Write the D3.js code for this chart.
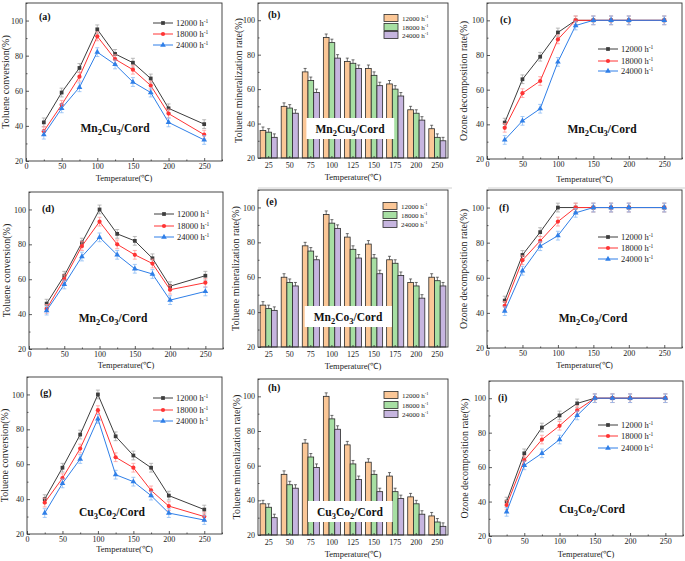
<!DOCTYPE html>
<html><head><meta charset="utf-8">
<script src="https://cdn.jsdelivr.net/npm/d3@7"></script>
<style>
body{margin:0;background:#fff}
svg{display:block}
text{font-family:"Liberation Serif","Times New Roman",serif;fill:#222}
</style>
</head><body>
<svg id="chart" width="685" height="561"></svg>
<script>
// ---------- data ----------
const temps = [25, 50, 75, 100, 125, 150, 175, 200, 250];
const tempLabels = ["25", "50", "75", "100", "125", "150", "175", "200", "250"];
const seriesNames = ["12000", "18000", "24000"];
const xTicksLine = [0, 50, 100, 150, 200, 250];
const yTicks = [20, 40, 60, 80, 100];

// (a) Mn2Cu3/Cord toluene conversion
const aConv12000 = [42, 59, 73, 95, 81, 76, 67, 50, 41];
const aConv18000 = [37, 52, 68, 91, 78, 72, 63, 47, 35];
const aConv24000 = [35, 50, 62, 82, 75, 65, 59, 42, 32];
// (b) Mn2Cu3/Cord mineralization
const bMin12000 = [36, 50, 70, 90, 76, 72, 63, 48, 37];
const bMin18000 = [35, 49, 65, 87, 75, 68, 60, 46, 32];
const bMin24000 = [32, 46, 58, 78, 72, 62, 56, 42, 30];
// (c) Mn2Cu3/Cord ozone decomposition
const cOz12000 = [41, 66, 79, 93, 100, 100, 100, 100, 100];
const cOz18000 = [38, 58, 65, 89, 100, 100, 100, 100, 100];
const cOz24000 = [31, 42, 49, 76, 97, 100, 100, 100, 100];
// (d) Mn2Co3/Cord toluene conversion
const dConv12000 = [46, 62, 81, 100, 86, 82, 72, 56, 62];
const dConv18000 = [43, 60, 79, 93, 80, 74, 69, 54, 58];
const dConv24000 = [42, 57, 73, 84, 74, 66, 63, 48, 53];
// (e) Mn2Co3/Cord mineralization
const eMin12000 = [44, 60, 78, 96, 83, 79, 70, 57, 60];
const eMin18000 = [42, 57, 75, 91, 76, 71, 68, 55, 58];
const eMin24000 = [41, 55, 70, 88, 71, 62, 61, 48, 55];
// (f) Mn2Co3/Cord ozone decomposition
const fOz12000 = [47, 73, 86, 100, 100, 100, 100, 100, 100];
const fOz18000 = [44, 70, 81, 92, 100, 100, 100, 100, 100];
const fOz24000 = [41, 64, 78, 84, 97, 100, 100, 100, 100];
// (g) Cu3Co2/Cord toluene conversion
const gConv12000 = [40, 58, 77, 100, 76, 65, 58, 42, 34];
const gConv18000 = [38, 52, 69, 91, 64, 58, 45, 36, 30];
const gConv24000 = [32, 49, 63, 86, 54, 50, 42, 32, 28];
// (h) Cu3Co2/Cord mineralization
const hMin12000 = [38, 55, 73, 100, 72, 62, 54, 42, 31];
const hMin18000 = [36, 49, 65, 87, 61, 55, 45, 38, 27.5];
const hMin24000 = [30, 47, 59, 81, 52, 45, 41, 32, 25];
// (i) Cu3Co2/Cord ozone decomposition
const iOz12000 = [40, 68, 83, 90, 97, 100, 100, 100, 100];
const iOz18000 = [38, 64, 76, 84, 93, 100, 100, 100, 100];
const iOz24000 = [34, 61, 68, 76, 90, 100, 100, 100, 100];

const lineErr = 2.5;
const barErr = 2;

// ---------- styles ----------
const lineColors = ["#3d3d3d", "#ff3434", "#2f7fe8"];
const errColors = ["#a8a8a8", "#ff9c9c", "#8dbcf5"];
const barColors = ["#fbc797", "#a7dfa3", "#c6b5df"];
const symbols = [d3.symbolSquare, d3.symbolCircle, d3.symbolTriangle];

const svg = d3.select("#chart");

function matLabel(g, cx, by, parts, bg) {
  const t = g.append("text").attr("x", cx).attr("y", by)
    .attr("text-anchor", "middle").attr("font-weight", "bold")
    .attr("font-size", 11.5).style("fill", "#111");
  parts.forEach(p => {
    if (p.sub) t.append("tspan").attr("dy", 3).attr("font-size", 8.5).text(p.s);
    else t.append("tspan").attr("dy", p.back ? -3 : 0).text(p.s);
  });
  if (bg) {
    const bb = t.node().getBBox();
    g.append("rect")
      .attr("x", bb.x - 9).attr("y", by - 15).attr("width", bb.width + 18).attr("height", 21)
      .attr("fill", "#fff");
    t.raise();
  }
}

function matParts(a, an, b, bn) {
  return [{s: a}, {s: an, sub: true}, {s: b, back: true}, {s: bn, sub: true}, {s: "/Cord", back: true}];
}

function styleAxis(a) {
  a.select(".domain").remove();
  a.selectAll("line").attr("stroke", "#333").attr("stroke-width", 0.8);
  a.selectAll("text").attr("font-size", 8).style("fill", "#222")
    .attr("font-family", '"Liberation Serif","Times New Roman",serif');
}

function frameAndAxes(g, p, x, isBand) {
  const y = d3.scaleLinear().domain([20, 110]).range([p.b, p.t]);
  styleAxis(g.append("g").attr("transform", `translate(${p.l},0)`)
    .call(d3.axisLeft(y).tickValues(yTicks).tickSizeInner(-3).tickSizeOuter(0).tickPadding(3).tickFormat(d3.format("d"))));
  styleAxis(g.append("g").attr("transform", `translate(${p.l},0)`)
    .call(d3.axisLeft(y).tickValues([30, 50, 70, 90, 110]).tickSizeInner(-1.5).tickSizeOuter(0).tickFormat("")));
  if (isBand) {
    styleAxis(g.append("g").attr("transform", `translate(0,${p.b})`)
      .call(d3.axisBottom(x).tickSizeInner(-2).tickSizeOuter(0).tickPadding(4)));
  } else {
    styleAxis(g.append("g").attr("transform", `translate(0,${p.b})`)
      .call(d3.axisBottom(x).tickValues(xTicksLine).tickSizeInner(-3).tickSizeOuter(0).tickPadding(2).tickFormat(d3.format("d"))));
    styleAxis(g.append("g").attr("transform", `translate(0,${p.b})`)
      .call(d3.axisBottom(x).tickValues([25, 75, 125, 175, 225, 275]).tickSizeInner(-1.5).tickSizeOuter(0).tickFormat("")));
  }
  g.append("rect").attr("x", p.l).attr("y", p.t).attr("width", p.r - p.l).attr("height", p.b - p.t)
    .attr("fill", "none").attr("stroke", "#333").attr("stroke-width", 0.9);
  g.append("text").attr("transform", `translate(${p.yt},${(p.t + p.b) / 2}) rotate(-90)`)
    .attr("text-anchor", "middle").attr("dominant-baseline", "middle").attr("font-size", 10).text(p.ytitle);
  g.append("text").attr("x", (p.l + p.r) / 2).attr("y", p.xt)
    .attr("text-anchor", "middle").attr("font-size", 8.5).text("Temperature(\u2103)");
  g.append("text").attr("x", p.lx).attr("y", p.ly).attr("font-size", 10).attr("font-weight", "bold")
    .style("fill", "#111").text(`(${p.id})`);
  return y;
}

function linePanel(p) {
  const g = svg.append("g");
  const x = d3.scaleLinear().domain([0, 275]).range([p.l, p.r]);
  const y = frameAndAxes(g, p, x, false);
  p.series.forEach((vals, si) => {
    const pts = temps.map((t, i) => ({t, v: vals[i]}));
    const eg = g.append("g").attr("stroke", errColors[si]).attr("stroke-width", 0.8);
    pts.forEach(d => {
      const xx = x(d.t);
      eg.append("line").attr("x1", xx).attr("x2", xx).attr("y1", y(d.v - lineErr)).attr("y2", y(d.v + lineErr));
      eg.append("line").attr("x1", xx - 2).attr("x2", xx + 2).attr("y1", y(d.v - lineErr)).attr("y2", y(d.v - lineErr));
      eg.append("line").attr("x1", xx - 2).attr("x2", xx + 2).attr("y1", y(d.v + lineErr)).attr("y2", y(d.v + lineErr));
    });
    g.append("path").datum(pts)
      .attr("d", d3.line().x(d => x(d.t)).y(d => y(d.v)))
      .attr("fill", "none").attr("stroke", lineColors[si]).attr("stroke-width", 1);
    g.selectAll(null).data(pts).join("path")
      .attr("transform", d => `translate(${x(d.t)},${y(d.v)})`)
      .attr("d", d3.symbol().type(symbols[si]).size(14))
      .attr("fill", lineColors[si]);
  });
  seriesNames.forEach((s, si) => {
    const ly = p.leg[si];
    g.append("line").attr("x1", p.legx).attr("x2", p.legx + 20).attr("y1", ly).attr("y2", ly)
      .attr("stroke", lineColors[si]).attr("stroke-width", 1);
    g.append("path").attr("transform", `translate(${p.legx + 10},${ly})`)
      .attr("d", d3.symbol().type(symbols[si]).size(14)).attr("fill", lineColors[si]);
    const t = g.append("text").attr("x", p.legx + 23).attr("y", ly + 3).attr("font-size", 8.5);
    t.append("tspan").text(s + " h");
    t.append("tspan").attr("dy", -3).attr("font-size", 5.5).text("-1");
  });
  matLabel(g, p.mx, p.my, p.mat, false);
}

function barPanel(p) {
  const g = svg.append("g");
  const x = d3.scaleBand().domain(tempLabels).range([p.l, p.r]).paddingInner(0.19).paddingOuter(0.1);
  const x1 = d3.scaleBand().domain(seriesNames).range([0, x.bandwidth()]);
  const y = d3.scaleLinear().domain([20, 110]).range([p.b, p.t]);
  const bg = g.append("g");
  p.series.forEach((vals, si) => {
    tempLabels.forEach((c, i) => {
      const bx = x(c) + x1(seriesNames[si]);
      bg.append("rect").attr("x", bx).attr("y", y(vals[i])).attr("width", x1.bandwidth())
        .attr("height", y(20) - y(vals[i])).attr("fill", barColors[si]).attr("stroke", "#2a2a2a").attr("stroke-width", 0.8);
      const cx = bx + x1.bandwidth() / 2;
      bg.append("line").attr("x1", cx).attr("x2", cx).attr("y1", y(vals[i])).attr("y2", y(vals[i] + barErr))
        .attr("stroke", "#333").attr("stroke-width", 0.7);
      bg.append("line").attr("x1", cx - 1.5).attr("x2", cx + 1.5).attr("y1", y(vals[i] + barErr)).attr("y2", y(vals[i] + barErr))
        .attr("stroke", "#333").attr("stroke-width", 0.7);
    });
  });
  frameAndAxes(g, p, x, true);
  seriesNames.forEach((s, si) => {
    const ly = p.leg[si];
    g.append("rect").attr("x", p.legx).attr("y", ly - 3.5).attr("width", 14).attr("height", 7)
      .attr("fill", barColors[si]).attr("stroke", "#2a2a2a").attr("stroke-width", 0.8);
    const t = g.append("text").attr("x", p.legx + 18).attr("y", ly + 2.5).attr("font-size", 7);
    t.append("tspan").text(s + " h");
    t.append("tspan").attr("dy", -2.5).attr("font-size", 4.5).text("-1");
  });
  matLabel(g, p.mx, p.my, p.mat, true);
}

const ytConv = "Toluene conversion(%)";
const ytMin = "Toluene mineralization rate(%)";
const ytOz = "Ozone decomposition rate(%)";
const matMnCu = matParts("Mn", "2", "Cu", "3");
const matMnCo = matParts("Mn", "2", "Co", "3");
const matCuCo = matParts("Cu", "3", "Co", "2");

linePanel({id: "a", l: 26, r: 222, t: 3, b: 161, yt: 7, xt: 181, lx: 39, ly: 20, legx: 153, leg: [23, 34, 45],
  mx: 115, my: 132, mat: matMnCu, ytitle: ytConv, series: [aConv12000, aConv18000, aConv24000]});
barPanel({id: "b", l: 258, r: 448, t: 3, b: 158, yt: 240, xt: 180, lx: 268, ly: 18, legx: 384, leg: [18, 27, 35],
  mx: 350, my: 133, mat: matMnCu, ytitle: ytMin, series: [bMin12000, bMin18000, bMin24000]});
linePanel({id: "c", l: 487, r: 682, t: 3, b: 159, yt: 465, xt: 182, lx: 500, ly: 23, legx: 598, leg: [49, 61, 71],
  mx: 602, my: 133, mat: matMnCu, ytitle: ytOz, series: [cOz12000, cOz18000, cOz24000]});

linePanel({id: "d", l: 29, r: 223, t: 192, b: 349, yt: 8, xt: 368, lx: 42, ly: 212, legx: 154, leg: [214, 226, 237],
  mx: 113, my: 322, mat: matMnCo, ytitle: ytConv, series: [dConv12000, dConv18000, dConv24000]});
barPanel({id: "e", l: 258, r: 448, t: 190, b: 347, yt: 237, xt: 369, lx: 266, ly: 205, legx: 383, leg: [206, 215, 224],
  mx: 348, my: 321, mat: matMnCo, ytitle: ytMin, series: [eMin12000, eMin18000, eMin24000]});
linePanel({id: "f", l: 487, r: 682, t: 190, b: 348, yt: 465, xt: 368, lx: 499, ly: 211, legx: 598, leg: [237, 248, 259],
  mx: 593, my: 322, mat: matMnCo, ytitle: ytOz, series: [fOz12000, fOz18000, fOz24000]});

linePanel({id: "g", l: 27, r: 222, t: 377, b: 534, yt: 6, xt: 552, lx: 40, ly: 396, legx: 153, leg: [398, 410, 421],
  mx: 112, my: 516, mat: matCuCo, ytitle: ytConv, series: [gConv12000, gConv18000, gConv24000]});
barPanel({id: "h", l: 258, r: 448, t: 379, b: 535, yt: 238, xt: 557, lx: 268, ly: 391, legx: 384, leg: [395, 405, 414],
  mx: 350, my: 516, mat: matCuCo, ytitle: ytMin, series: [hMin12000, hMin18000, hMin24000]});
linePanel({id: "i", l: 489, r: 683, t: 381, b: 536, yt: 466, xt: 557, lx: 498, ly: 401, legx: 598, leg: [425, 436, 448],
  mx: 592, my: 513, mat: matCuCo, ytitle: ytOz, series: [iOz12000, iOz18000, iOz24000]});

svg.append("line").attr("x1", 258).attr("x2", 452).attr("y1", 188).attr("y2", 188).attr("stroke", "#d0d0d0").attr("stroke-width", 1);
svg.append("line").attr("x1", 488).attr("x2", 685).attr("y1", 188).attr("y2", 188).attr("stroke", "#d0d0d0").attr("stroke-width", 1);
</script>
</body></html>
